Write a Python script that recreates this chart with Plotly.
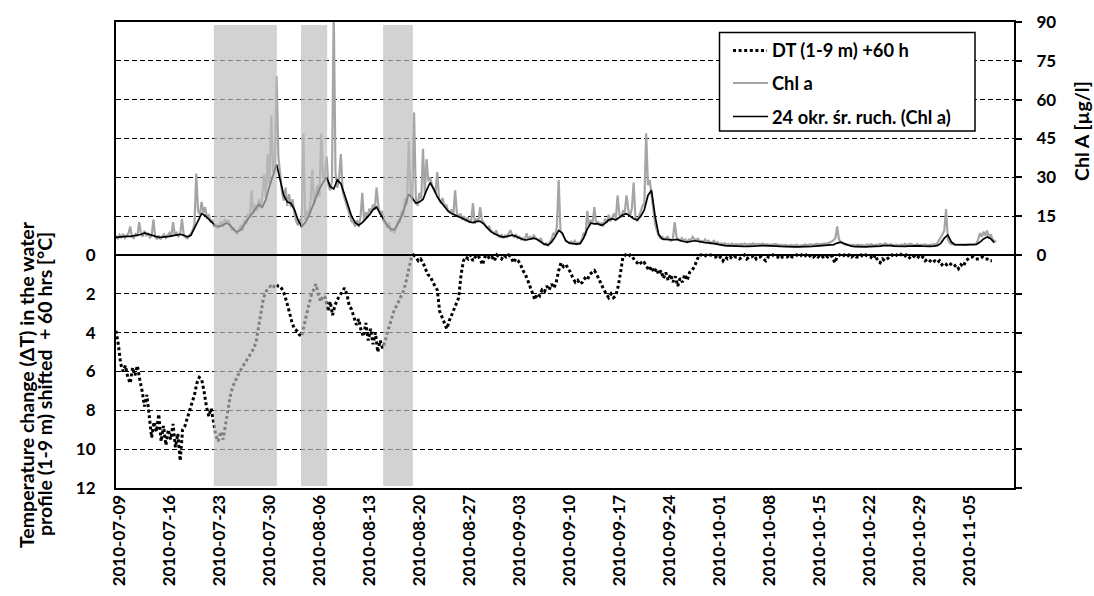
import pandas as pd
import plotly.graph_objects as go

# ---------------------------------------------------------------------------
# Data (series start 2010-07-08 12:00)
# ---------------------------------------------------------------------------
SERIES_START = "2010-07-08 12:00"

# Chlorophyll a [ug/l], one value every 6 h
chl_a = [
    7.5, 6.2, 7.8, 6.9,   8.1, 6.6, 7.4, 8.3,   11.0, 7.0, 6.5, 8.0,   7.2, 12.7, 8.4, 7.1,
    9.3, 7.6, 8.2, 6.8,   7.4, 13.8, 6.9, 6.3,  7.5, 6.1, 7.3, 8.0,    6.6, 7.8, 8.5, 7.0,
    12.7, 7.9, 8.6, 7.3,  8.2, 14.0, 7.6, 6.8,  6.4, 7.2, 8.3, 9.5,    12.0, 31.5, 17.0, 15.5,
    20.5, 16.2, 18.5, 14.0, 15.8, 12.5, 13.6, 10.8, 12.0, 10.2, 11.8, 13.0, 10.8, 14.0, 12.2, 13.5,
    11.0, 9.5, 10.6, 8.6,  8.2, 9.8, 11.5, 9.4,  13.5, 12.0, 16.0, 14.5, 25.0, 15.8, 19.5, 17.0,
    21.5, 18.0, 23.0, 31.0, 22.0, 39.0, 27.5, 54.0, 32.0, 36.0, 69.0, 38.0, 30.0, 24.5, 21.0, 26.0,
    19.0, 23.5, 18.5, 21.5, 16.0, 13.0, 11.5, 14.0, 10.5, 47.0, 13.5, 17.0, 15.0, 20.5, 33.0, 19.5,
    24.0, 27.0, 22.5, 47.0, 29.5, 31.0, 38.0, 27.0, 25.0, 28.5, 95.0, 31.5, 26.0, 30.0, 39.0, 24.5,
    22.0, 19.5, 17.0, 15.5, 13.0, 12.5, 11.0, 13.5, 10.8, 14.5, 24.0, 13.0, 16.5, 15.0, 18.0, 16.5,
    19.5, 17.5, 26.0, 19.0, 15.5, 17.0, 13.0, 12.0, 10.5, 12.5, 9.0, 10.0, 8.5, 11.0, 13.5, 12.5,
    17.0, 15.0, 22.0, 19.5, 44.0, 25.0, 21.0, 55.0, 22.0, 19.0, 24.0, 21.5, 41.0, 23.5, 37.0, 28.5,
    30.0, 27.0, 25.5, 24.0, 32.0, 21.5, 20.0, 22.0, 18.5, 19.5, 17.0, 16.5, 17.5, 15.5, 25.0, 16.0,
    14.5, 16.0, 13.5, 15.0, 13.0, 14.5, 12.5, 13.5, 20.0, 12.0, 14.0, 13.0, 18.5, 13.5, 12.5, 11.5,
    10.5, 11.0, 9.5, 9.0,  8.0, 9.5, 7.5, 7.0,   8.0, 6.5, 7.5, 7.0,    8.5, 9.6, 7.5, 7.0,
    8.0, 6.5, 7.0, 6.0,    6.5, 5.5, 8.4, 6.0,   7.0, 6.0, 7.5, 6.5,    6.0, 5.5, 6.5, 4.5,
    4.0, 4.5, 3.5, 5.0,    6.0, 8.5, 7.5, 11.0,  29.0, 9.5, 8.0, 7.0,   5.5, 5.0, 4.8, 5.2,
    4.5, 5.5, 4.2, 4.8,    4.5, 6.0, 8.5, 7.5,   17.0, 11.0, 13.5, 12.5, 18.5, 12.0, 13.0, 11.5,
    12.5, 11.0, 14.0, 12.5, 15.5, 13.0, 14.5, 16.0, 14.0, 23.0, 15.5, 14.5, 17.0, 16.5, 23.0, 17.5,
    15.0, 18.0, 28.0, 14.5, 13.0, 15.5, 17.0, 19.0, 20.0, 47.0, 27.0, 29.0, 24.0, 18.0, 12.0, 9.5,
    7.5, 6.5, 7.0, 6.0,    6.5, 7.0, 6.0, 5.5,   6.5, 12.7, 7.0, 6.0,   5.5, 6.5, 5.5, 6.0,
    5.0, 6.0, 5.5, 7.0,    6.0, 5.5, 6.5, 5.0,   5.5, 5.0, 6.0, 5.0,    5.5, 4.5, 5.0, 5.5,
    4.5, 5.0, 4.2, 4.5,    4.0, 4.6, 4.0, 4.3,   4.0, 4.4, 3.8, 4.2,    4.2, 3.8, 4.3, 4.0,
    4.4, 4.0, 3.9, 4.3,    4.1, 4.5, 4.0, 4.2,   4.3, 3.9, 4.4, 4.1,    4.0, 4.2, 3.8, 4.1,
    3.9, 4.3, 4.0, 3.8,    3.7, 4.0, 3.6, 3.9,   3.8, 3.5, 3.9, 3.7,    3.6, 4.0, 3.7, 3.5,
    3.8, 3.6, 4.1, 3.7,    3.9, 4.2, 3.8, 4.0,   4.0, 4.4, 4.1, 4.3,    4.2, 4.5, 4.3, 4.6,
    4.8, 5.2, 5.8, 6.5,    11.0, 6.0, 5.0, 4.5,  4.2, 4.0, 3.8, 3.9,    3.7, 4.0, 3.6, 3.8,
    4.0, 3.7, 3.9, 3.6,    3.8, 4.1, 3.7, 4.2,   3.9, 3.6, 4.0, 3.8,    4.3, 3.9, 4.1, 4.5,
    4.0, 3.8, 4.2, 3.9,    3.7, 4.0, 3.8, 3.6,   4.1, 3.8, 4.3, 3.9,    4.0, 4.4, 4.1, 3.8,
    3.9, 4.2, 3.7, 4.0,    3.8, 4.1, 3.9, 3.7,   4.0, 3.8, 4.2, 4.0,    4.5, 5.5, 7.0, 8.0,
    9.5, 17.7, 6.0, 4.8,   4.2, 4.0, 4.0, 4.0,   4.0, 4.0, 4.0, 4.0,    4.0, 4.0, 4.1, 4.1,
    4.1, 4.1, 4.5, 6.0,    8.5, 7.0, 9.0, 7.5,   9.5, 6.5, 8.0, 6.0,    5.5, 5.0,
]

# 24-period moving average of Chl a, one value every 12 h
chl_a_ma = [
    6.8, 7.0, 7.1, 7.2, 7.2, 7.4, 7.6, 7.9, 8.5, 8.0,
    7.5, 7.0, 6.8, 6.9, 7.0, 7.2, 7.5, 7.8, 8.0, 7.6,
    7.0, 7.6, 10.5, 13.5, 16.0, 15.2, 14.0, 12.5, 11.2, 11.0,
    11.6, 12.4, 11.5, 9.8, 8.9, 9.8, 12.0, 14.0, 15.5, 17.5,
    19.5, 18.5, 21.5, 26.5, 30.5, 35.0, 29.0, 23.0, 20.5, 20.0,
    17.5, 13.5, 11.0, 12.5, 15.0, 18.5, 22.0, 25.5, 28.0, 30.0,
    26.5, 25.5, 29.0, 27.5, 23.5, 19.0, 15.0, 12.5, 11.5, 12.5,
    14.0, 15.5, 17.5, 18.5, 16.0, 13.5, 11.5, 10.0, 9.8, 12.0,
    15.0, 19.0, 23.5, 22.0, 20.0, 20.5, 21.5, 25.0, 28.0, 25.5,
    22.5, 20.5, 18.5, 17.0, 16.0, 15.5, 14.8, 14.2, 13.5, 12.8,
    12.5, 13.0, 13.0, 12.0, 10.5, 9.0, 8.2, 7.5, 7.0, 7.0,
    7.5, 7.7, 7.2, 6.5, 6.0, 5.8, 6.2, 6.5, 6.0, 5.0,
    4.2, 3.8, 5.0, 7.0, 9.5, 8.5, 5.5, 4.6, 4.4, 4.2,
    4.4, 6.5, 10.0, 12.3, 12.0, 12.0, 11.5, 12.2, 13.5, 14.0,
    13.5, 14.5, 15.5, 16.0, 15.0, 14.0, 13.5, 15.0, 17.5, 23.0,
    25.0, 15.0, 8.0, 6.2, 6.0, 5.8, 5.8, 6.0, 5.5, 5.2,
    5.0, 5.2, 5.5, 5.3, 5.0, 4.8, 4.7, 4.6, 4.3, 4.0,
    3.7, 3.5, 3.5, 3.4, 3.4, 3.4, 3.3, 3.3, 3.3, 3.4,
    3.5, 3.6, 3.6, 3.5, 3.5, 3.4, 3.3, 3.2, 3.2, 3.1,
    3.1, 3.1, 3.1, 3.2, 3.2, 3.3, 3.4, 3.5, 3.6, 3.7,
    3.8, 4.0, 4.6, 5.0, 4.4, 3.8, 3.4, 3.2, 3.1, 3.1,
    3.1, 3.2, 3.2, 3.3, 3.4, 3.6, 3.7, 3.6, 3.4, 3.3,
    3.2, 3.3, 3.4, 3.5, 3.6, 3.5, 3.4, 3.3, 3.3, 3.4,
    3.6, 4.5, 6.5, 7.7, 5.0, 4.0, 3.9, 3.9, 3.9, 4.0,
    4.0, 4.1, 5.0, 6.2, 7.0, 6.3, 4.8,
]

# Temperature difference between 1 m and 9 m [degC], shifted +60 h, every 8 h
dt_1_9m = [
    3.9, 4.6, 5.6,  6.0, 5.7, 6.3,  6.6, 5.8, 6.2,  5.7, 6.4, 7.0,  7.8, 7.2, 8.3,
    9.4, 8.6, 9.1,  8.2, 9.6, 8.8,  9.8, 9.0, 9.5,  8.7, 9.9, 9.2,  10.6, 9.0, 8.8,
    8.4, 8.0, 7.6,  7.2, 6.6, 6.3,  6.4, 7.0, 7.8,  8.3, 7.9, 8.6,  9.3, 9.6, 9.1,
    9.5, 8.7, 8.0,  7.3, 6.8, 6.5,  6.2, 6.0, 5.8,  5.6, 5.4, 5.2,  5.0, 4.8, 4.4,
    3.6, 2.8, 2.2,  1.9, 1.7, 1.6,  1.7, 1.5, 1.6,  1.6, 1.8, 2.1,  2.5, 3.0, 3.5,
    3.8, 3.9, 4.1,  4.2, 3.6, 3.1,  2.6, 2.1, 1.8,  1.5, 2.0, 2.4,  2.1, 2.2, 2.9,
    2.4, 3.1, 2.6,  2.3, 2.1, 1.9,  1.7, 2.0, 2.6,  2.8, 3.2, 3.6,  3.3, 3.9, 4.2,
    3.5, 4.4, 3.8,  4.6, 4.0, 5.0,  4.4, 4.8, 4.5,  4.0, 3.6, 3.2,  2.8, 2.6, 2.3,
    2.1, 1.8, 1.3,  0.7, 0.2, 0.0,  0.1, 0.3, 0.2,  0.4, 0.7, 1.0,  1.1, 1.4, 1.6,
    1.8, 2.9, 3.2,  3.5, 3.8, 3.4,  3.1, 2.8, 2.4,  2.2, 1.0, 0.3,  0.1, 0.2, 0.0,
    0.3, 0.1, 0.0,  0.2, 0.5, 0.1,  0.0, 0.2, 0.1,  0.3, 0.0, 0.1,  0.2, 0.0, 0.1,
    0.0, 0.1, 0.4,  0.2, 0.3, 0.5,  0.8, 1.0, 1.3,  1.6, 1.9, 2.3,  2.0, 2.1, 1.8,
    1.9, 1.6, 1.8,  1.5, 1.7, 1.4,  0.8, 0.4, 0.6,  0.5, 0.7, 0.9,  1.2, 1.4, 1.3,
    1.5, 1.4, 1.2,  1.3, 1.0, 0.9,  0.8, 1.0, 1.3,  1.5, 1.8, 2.0,  2.2, 2.0, 2.2,
    2.1, 1.6, 0.9,  0.1, 0.0, 0.1,  0.0, 0.1, 0.3,  0.4, 0.3, 0.5,  0.4, 0.6, 0.8,
    0.6, 0.9, 0.7,  1.0, 0.8, 1.2,  0.9, 1.3, 1.0,  1.4, 1.1, 1.6,  1.2, 1.4, 1.0,
    1.3, 0.9, 0.8,  0.6, 0.3, 0.0,  0.0, 0.1, 0.0,  0.0, 0.0, 0.1,  0.1, 0.2, 0.1,
    0.3, 0.1, 0.2,  0.1, 0.2, 0.1,  0.1, 0.2, 0.1,  0.0, 0.2, 0.1,  0.1, 0.0, 0.2,
    0.1, 0.1, 0.2,  0.3, 0.1, 0.1,  0.0, 0.1, 0.1,  0.2, 0.1, 0.1,  0.1, 0.0, 0.1,
    0.1, 0.0, 0.1,  0.0, 0.1, 0.0,  0.1, 0.0, 0.1,  0.0, 0.1, 0.0,  0.1, 0.0, 0.1,
    0.0, 0.1, 0.4,  0.1, 0.0, 0.1,  0.0, 0.1, 0.0,  0.1, 0.0, 0.1,  0.1, 0.0, 0.1,
    0.0, 0.1, 0.1,  0.2, 0.0, 0.3,  0.4, 0.2, 0.3,  0.2, 0.1, 0.0,  0.1, 0.0, -0.1,
    0.0, 0.1, 0.0,  0.1, 0.2, 0.1,  0.0, 0.1, 0.2,  0.1, 0.3, 0.2,  0.3, 0.4, 0.3,
    0.4, 0.3, 0.5,  0.4, 0.5, 0.4,  0.5, 0.6, 0.5,  0.7, 0.5, 0.6,  0.3, 0.2, 0.1,
    0.1, 0.2, 0.2,  0.2, 0.1, 0.2,  0.2, 0.3, 0.3,
]

# Weekly date ticks and shaded periods
tick_dates = pd.date_range("2010-07-09", "2010-11-05", freq="7D")
shade_start = ["2010-07-22 05:00", "2010-08-03 10:00", "2010-08-14 22:00"]
shade_end = ["2010-07-31 01:00", "2010-08-07 02:00", "2010-08-19 02:00"]

dt_ticks = [0, 2, 4, 6, 8, 10, 12]
chl_ticks = [-90, -75, -60, -45, -30, -15, 0, 15, 30, 45, 60, 75, 90]

legend_labels = ["DT (1-9 m) +60 h", "Chl a", "24 okr. \u015br. ruch. (Chl a)"]

# ---------------------------------------------------------------------------
chl_time = pd.date_range(SERIES_START, periods=len(chl_a), freq="6h")
ma_time = pd.date_range(SERIES_START, periods=len(chl_a_ma), freq="12h")
dt_time = pd.date_range(SERIES_START, periods=len(dt_1_9m), freq="8h")

W, H = 1094, 596
ML, MR, MT, MB = 116, 80, 22, 108
PW, PH = W - ML - MR, H - MT - MB
FONT = "Lato"


def px(x):
    return (x - ML) / PW


def py(y):
    return (H - MB - y) / PH


DT_DASH = "3px,2.6px"
GRAY = "#a5a5a5"

fig = go.Figure()
fig.add_trace(go.Scatter(
    x=dt_time, y=dt_1_9m, yaxis="y", mode="lines", name=legend_labels[0],
    line=dict(color="black", width=3, dash=DT_DASH), showlegend=False,
))
fig.add_trace(go.Scatter(
    x=chl_time, y=chl_a, yaxis="y2", mode="lines", name=legend_labels[1],
    line=dict(color=GRAY, width=2.2), showlegend=False,
))
fig.add_trace(go.Scatter(
    x=ma_time, y=chl_a_ma, yaxis="y2", mode="lines", name=legend_labels[2],
    line=dict(color="black", width=1.7), showlegend=False,
))

shapes = []
for s0, s1 in zip(shade_start, shade_end):
    shapes.append(dict(
        type="rect", xref="x", yref="paper", x0=s0, x1=s1,
        y0=py(486), y1=py(25), layer="above",
        fillcolor="rgba(188,188,188,0.68)", line=dict(width=0),
    ))
# zero line shared by both axes
shapes.append(dict(
    type="line", xref="paper", yref="y2", x0=0, x1=px(1019), y0=0, y1=0,
    layer="above", line=dict(color="black", width=2),
))
# legend frame and sample lines
shapes.append(dict(
    type="rect", xref="paper", yref="paper",
    x0=px(719.5), x1=px(975), y0=py(131), y1=py(32.5),
    layer="above", fillcolor="white", line=dict(color="black", width=1.5),
))
legend_rows = [50.5, 83, 116.5]
shapes.append(dict(type="line", xref="paper", yref="paper", x0=px(733), x1=px(767),
                   y0=py(legend_rows[0]), y1=py(legend_rows[0]), layer="above",
                   line=dict(color="black", width=3, dash=DT_DASH)))
shapes.append(dict(type="line", xref="paper", yref="paper", x0=px(733), x1=px(768),
                   y0=py(legend_rows[1]), y1=py(legend_rows[1]), layer="above",
                   line=dict(color=GRAY, width=2.2)))
shapes.append(dict(type="line", xref="paper", yref="paper", x0=px(733), x1=px(768),
                   y0=py(legend_rows[2]), y1=py(legend_rows[2]), layer="above",
                   line=dict(color="black", width=1.7)))

tick_font = dict(family=FONT, size=17, color="black", weight="bold")
legend_font = dict(family=FONT, size=18.3, color="black", weight="bold")
title_font = dict(family=FONT, size=19.5, color="black", weight="bold")

annotations = []
for label, yrow in zip(legend_labels, legend_rows):
    annotations.append(dict(
        text=label, xref="paper", yref="paper", x=px(770), y=py(yrow),
        xanchor="left", yanchor="middle", showarrow=False, font=legend_font,
    ))
annotations.append(dict(
    text="Chl A [\u00b5g/l]", xref="paper", yref="paper", x=px(1082), y=py(131),
    xanchor="center", yanchor="middle", textangle=-90, showarrow=False, font=title_font,
))
annotations.append(dict(
    text="Temperature change (\u0394T) in the water", xref="paper", yref="paper",
    x=px(26), y=py(385), xanchor="center", yanchor="middle", textangle=-90,
    showarrow=False, font=title_font,
))
annotations.append(dict(
    text="profile (1-9 m) shifted  + 60 hrs [\u00b0C]", xref="paper", yref="paper",
    x=px(45), y=py(384), xanchor="center", yanchor="middle", textangle=-90,
    showarrow=False, font=title_font,
))

fig.update_layout(
    width=W, height=H,
    margin=dict(l=ML, r=MR, t=MT, b=MB, pad=0, autoexpand=False),
    paper_bgcolor="white", plot_bgcolor="white",
    showlegend=False,
    font=dict(family=FONT, size=17, color="black"),
    xaxis=dict(
        type="date", range=["2010-07-08 12:15", "2010-11-11 06:15"],
        tickvals=tick_dates, tickformat="%Y-%m-%d", tickangle=-90,
        tickfont=tick_font, ticks="", showgrid=False, zeroline=False,
        showline=True, linecolor="black", linewidth=2, mirror=True,
        ticklabelstandoff=-2, automargin=False,
    ),
    yaxis=dict(
        range=[12, -12], tickvals=dt_ticks, tickfont=tick_font,
        ticks="outside", ticklen=15, tickcolor="rgba(0,0,0,0)",
        showgrid=False, zeroline=False, showline=True, linecolor="black",
        linewidth=2, automargin=False,
    ),
    yaxis2=dict(
        overlaying="y", side="right", range=[-90, 90], tickvals=chl_ticks,
        ticktext=[str(v) if v >= 0 else "" for v in chl_ticks],
        tickfont=tick_font, ticks="outside", ticklen=6, tickwidth=1.5, tickcolor="black",
        showgrid=True, gridcolor="black", gridwidth=1, griddash="5px,3px",
        zeroline=False, showline=True, linecolor="black", linewidth=2,
        ticklabelstandoff=11, automargin=False,
    ),
    shapes=shapes,
    annotations=annotations,
)

fig.write_html("out.html")
